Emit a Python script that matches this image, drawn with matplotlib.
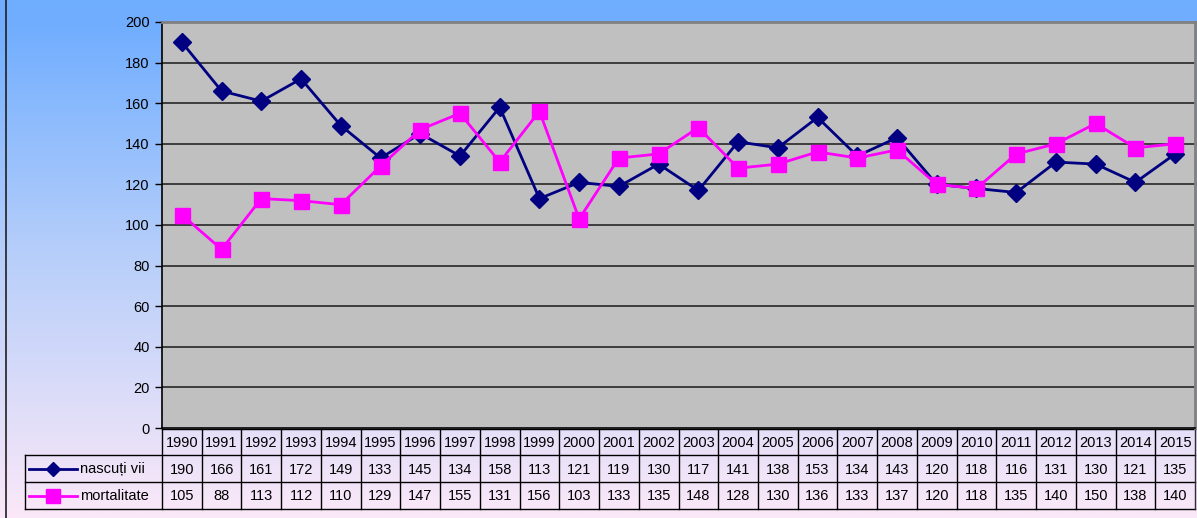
import numpy as np
import matplotlib
matplotlib.use("Agg")
import matplotlib.pyplot as plt
import matplotlib.transforms as mtransforms
from matplotlib.lines import Line2D
from matplotlib.colors import LinearSegmentedColormap

years = [str(y) for y in range(1990, 2016)]
nascuti = [190, 166, 161, 172, 149, 133, 145, 134, 158, 113, 121, 119, 130, 117,
           141, 138, 153, 134, 143, 120, 118, 116, 131, 130, 121, 135]
mortalitate = [105, 88, 113, 112, 110, 129, 147, 155, 131, 156, 103, 133, 135, 148,
               128, 130, 136, 133, 137, 120, 118, 135, 140, 150, 138, 140]
series_names = ["nascuți vii", "mortalitate"]
yticks = [0, 20, 40, 60, 80, 100, 120, 140, 160, 180, 200]

plt.rcParams['font.family'] = ['Liberation Sans', 'DejaVu Sans']
W, H = 1197, 518
fig = plt.figure(figsize=(W / 100, H / 100), dpi=100)

# background gradient
bg = fig.add_axes([0, 0, 1, 1], zorder=-10)
bg.set_axis_off()
cmap = LinearSegmentedColormap.from_list(
    "bg", [(0.0, "#6FADFF"), (0.05, "#71AEFF"), (0.5, "#B8CFFA"), (1.0, "#FBE8F8")])
grad = np.linspace(0, 1, 256).reshape(-1, 1)
bg.imshow(grad, aspect="auto", cmap=cmap, extent=[0, 1, 0, 1], origin="upper")
bg.set_xlim(0, 1)
bg.set_ylim(0, 1)
bg.plot([5.5 / W, 5.5 / W], [0, 1], color="#202020", lw=1.2)

def fx(px):
    return px / W

def fy(py):
    return 1 - py / H

left, right, top, bottom = 162, 1195, 22, 428
ax = fig.add_axes([fx(left), fy(bottom), fx(right - left), (bottom - top) / H])
ax.set_facecolor("#C0C0C0")
x = np.arange(len(years))
ax.set_xlim(-0.5, len(years) - 0.5)
ax.set_ylim(0, 200)
ax.set_yticks(yticks)
ax.set_yticklabels([str(v) for v in yticks], fontsize=10.5)
ax.set_xticks([])
ax.tick_params(axis="y", direction="out", length=5, width=1, color="black", pad=4)
for v in yticks[1:-1]:
    ax.axhline(v, color="#1a1a1a", lw=1.1, zorder=1)
ax.spines["left"].set_color("black")
ax.spines["left"].set_linewidth(1.2)
ax.spines["bottom"].set_color("black")
ax.spines["bottom"].set_linewidth(1.2)
ax.spines["top"].set_color("#808080")
ax.spines["top"].set_linewidth(2)
ax.spines["right"].set_color("#808080")
ax.spines["right"].set_linewidth(2)

ax.plot(x, nascuti, color="#000080", lw=2, marker="D", markersize=9,
        markerfacecolor="#000080", markeredgecolor="#000080", zorder=3)
ax.plot(x, mortalitate, color="#FF00FF", lw=2, marker="s", markersize=10.8,
        markerfacecolor="#FF00FF", markeredgecolor="#FF00FF", zorder=4)

# data table
tr = mtransforms.blended_transform_factory(ax.transData, fig.transFigure)
rows_y = [429, 455, 482, 509]
lc = "black"

# horizontal lines
ax.add_line(Line2D([fx(left), fx(right)], [fy(rows_y[0])] * 2, transform=fig.transFigure,
                   color=lc, lw=1, clip_on=False))
for y in rows_y[1:]:
    ax.add_line(Line2D([fx(25), fx(right)], [fy(y)] * 2, transform=fig.transFigure,
                       color=lc, lw=1, clip_on=False))
# vertical lines
for i in range(len(years) + 1):
    ax.add_line(Line2D([i - 0.5, i - 0.5], [fy(rows_y[0]), fy(rows_y[3])], transform=tr,
                       color="#303030" if i == len(years) else lc, lw=1, clip_on=False))
ax.add_line(Line2D([fx(25), fx(25)], [fy(rows_y[1]), fy(rows_y[3])], transform=fig.transFigure,
                   color=lc, lw=1, clip_on=False))

for i, yr in enumerate(years):
    ax.text(i, fy((rows_y[0] + rows_y[1]) / 2 + 1), yr, transform=tr, ha="center", va="center",
            fontsize=10.5)
    ax.text(i, fy((rows_y[1] + rows_y[2]) / 2 + 1), str(nascuti[i]), transform=tr, ha="center",
            va="center", fontsize=10.5)
    ax.text(i, fy((rows_y[2] + rows_y[3]) / 2 + 1), str(mortalitate[i]), transform=tr,
            ha="center", va="center", fontsize=10.5)

# legend keys
styles = [("#000080", "D", 7.5), ("#FF00FF", "s", 9.5)]
for r, (name, (c, m, ms)) in enumerate(zip(series_names, styles)):
    yc = fy((rows_y[r + 1] + rows_y[r + 2]) / 2)
    ax.add_line(Line2D([fx(29), fx(77)], [yc, yc], transform=fig.transFigure, color=c, lw=2,
                       clip_on=False))
    ax.add_line(Line2D([fx(53)], [yc], transform=fig.transFigure, color=c, marker=m,
                       markersize=ms, markerfacecolor=c, markeredgecolor=c, clip_on=False))
    ax.text(fx(80), fy((rows_y[r + 1] + rows_y[r + 2]) / 2 + 1), name, transform=fig.transFigure,
            ha="left", va="center", fontsize=10.5)

fig.savefig("out.png", dpi=100)
